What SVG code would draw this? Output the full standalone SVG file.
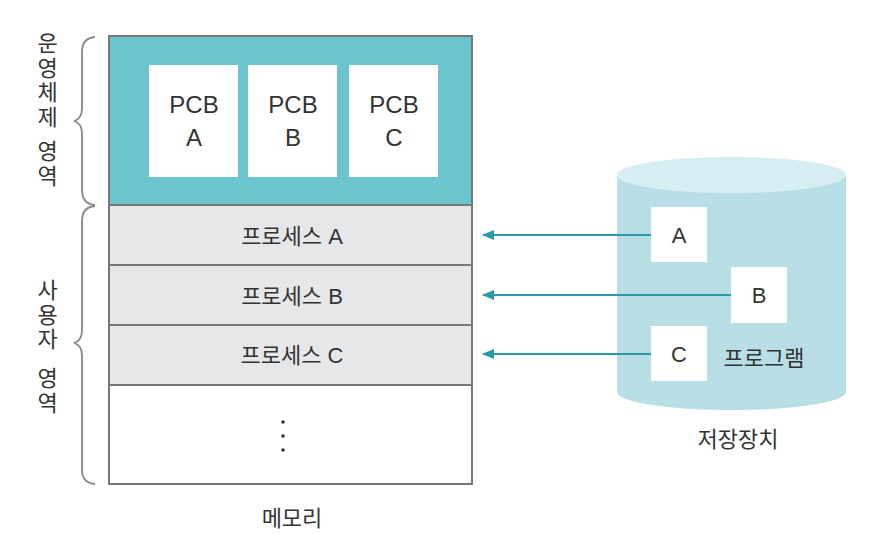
<svg xmlns="http://www.w3.org/2000/svg" width="876" height="534" viewBox="0 0 876 534">
<style>
text{font-family:"Liberation Sans","Noto Sans CJK KR",sans-serif;fill:#333;text-anchor:middle}
.cell{stroke:#777;stroke-width:2}
.pcb{fill:#fff}
.lbl{font-size:22px}
.big{font-size:24px}
.box{fill:#fff}
.vert{font-size:22px;writing-mode:vertical-rl;text-orientation:upright;text-anchor:start;letter-spacing:2.5px}
.con{stroke:#2b9aa6;stroke-width:2;fill:none;marker-end:url(#ah)}
.brace{stroke:#888;stroke-width:1.8;fill:none}
</style>
<defs>
<marker id="ah" markerWidth="12" markerHeight="10" refX="11" refY="5" orient="auto" markerUnits="userSpaceOnUse">
<path d="M0,0 L12,5 L0,10 Z" fill="#2b9aa6"/>
</marker>
</defs>
<rect width="876" height="534" fill="#fff"/>
<g id="memory">
<rect class="cell" x="109" y="36" width="363" height="169" fill="#6cc4ce"/>
<rect class="cell" x="109" y="205" width="363" height="60" fill="#e6e7e8"/>
<rect class="cell" x="109" y="265" width="363" height="60" fill="#e6e7e8"/>
<rect class="cell" x="109" y="325" width="363" height="60" fill="#e6e7e8"/>
<rect class="cell" x="109" y="385" width="363" height="99" fill="#fff"/>
<text class="lbl" x="292" y="244">프로세스 A</text>
<text class="lbl" x="292" y="304">프로세스 B</text>
<text class="lbl" x="292" y="363">프로세스 C</text>
<circle cx="283" cy="422" r="1.8" fill="#333"/>
<circle cx="283" cy="436" r="1.8" fill="#333"/>
<circle cx="283" cy="450" r="1.8" fill="#333"/>
<text class="lbl" x="292" y="526">메모리</text>
</g>
<g id="pcbA"><rect class="pcb" x="149" y="65" width="89" height="112"/><text class="big" x="194" y="113">PCB</text><text class="big" x="194" y="146">A</text></g>
<g id="pcbB"><rect class="pcb" x="248" y="65" width="89" height="112"/><text class="big" x="293" y="113">PCB</text><text class="big" x="293" y="146">B</text></g>
<g id="pcbC"><rect class="pcb" x="349" y="65" width="89" height="112"/><text class="big" x="394" y="113">PCB</text><text class="big" x="394" y="146">C</text></g>
<g id="storage">
<path d="M617,175 L617,392 A114.5,18 0 0 0 846,392 L846,175 Z" fill="#b8dfe6"/>
<ellipse cx="731.5" cy="175" rx="114.5" ry="18" fill="#d6eef2"/>
<text class="lbl" x="764" y="366">프로그램</text>
<text class="lbl" x="738" y="447">저장장치</text>
</g>
<g id="progA"><rect class="box" x="651" y="207" width="56" height="55"/><text class="lbl" x="679" y="243">A</text></g>
<g id="progB"><rect class="box" x="731" y="267" width="56" height="56"/><text class="lbl" x="759" y="303">B</text></g>
<g id="progC"><rect class="box" x="651" y="326" width="56" height="55"/><text class="lbl" x="679" y="362">C</text></g>
<g id="braces">
<path class="brace" d="M95,37 Q82,38 82,52 L82,108 Q82,119 74,121 Q82,123 82,134 L82,190 Q82,204 95,205"/>
<path class="brace" d="M95,206 Q82,207 82,221 L82,330 Q82,341 74,343 Q82,345 82,356 L82,470 Q82,483 95,484"/>
<text class="vert" x="45" y="32">운영체제</text>
<text class="vert" x="45" y="140">영역</text>
<text class="vert" x="45" y="279">사용자</text>
<text class="vert" x="45" y="367">영역</text>
</g>
<g id="connectors">
<line class="con" x1="651" y1="235" x2="483" y2="235"/>
<line class="con" x1="731" y1="295" x2="483" y2="295"/>
<line class="con" x1="651" y1="354" x2="483" y2="354"/>
</g>
</svg>
